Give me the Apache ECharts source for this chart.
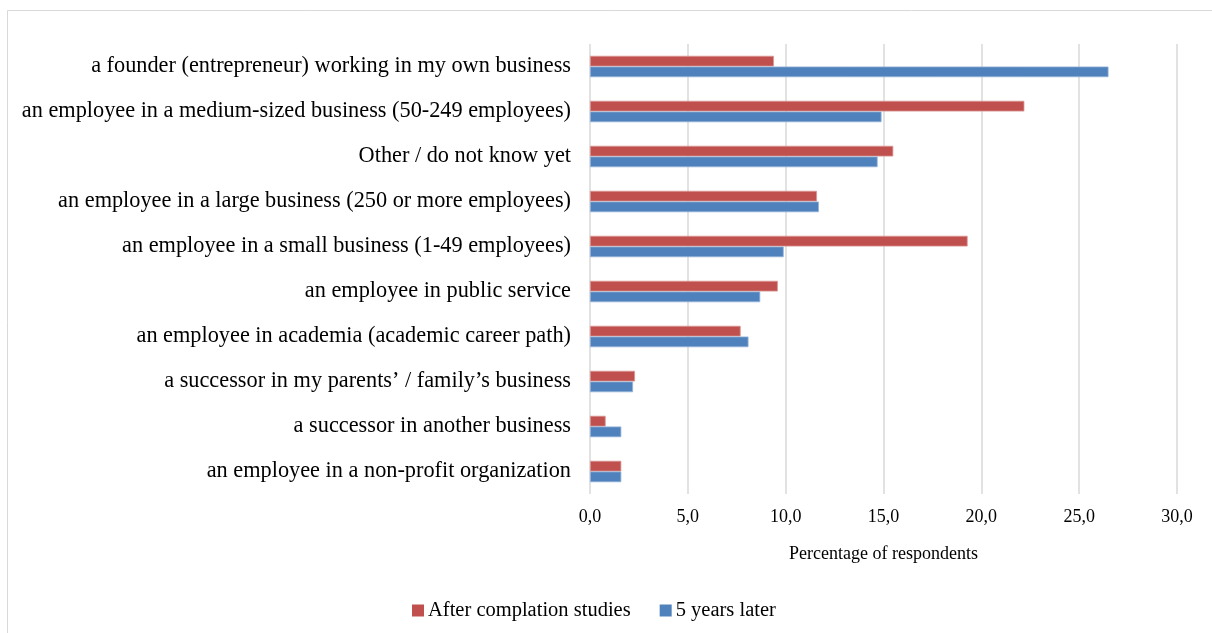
<!DOCTYPE html>
<html>
<head>
<meta charset="utf-8">
<script src="https://cdn.jsdelivr.net/npm/echarts@6/dist/echarts.min.js"></script>
<style>
  html, body { margin: 0; padding: 0; background: #fff; }
  #chart { width: 1212px; height: 633px; }
</style>
</head>
<body>
<div id="chart"></div>
<script>
// Career intentions, top to bottom
const categories = [
  'a founder (entrepreneur) working in my own business',
  'an employee in a medium-sized business (50-249 employees)',
  'Other / do not know yet',
  'an employee in a large business (250 or more employees)',
  'an employee in a small business (1-49 employees)',
  'an employee in public service',
  'an employee in academia (academic career path)',
  'a successor in my parents\u2019 / family\u2019s business',
  'a successor in another business',
  'an employee in a non-profit organization'
];
const afterStudies = [9.4, 22.2, 15.5, 11.6, 19.3, 9.6, 7.7, 2.3, 0.8, 1.6];
const fiveYearsLater = [26.5, 14.9, 14.7, 11.7, 9.9, 8.7, 8.1, 2.2, 1.6, 1.6];
const seriesNames = ['After complation studies', '5 years later'];
const xTickLabels = ['0,0', '5,0', '10,0', '15,0', '20,0', '25,0', '30,0'];
const xAxisName = 'Percentage of respondents';

const FONT = '"Liberation Serif", "Times New Roman", serif';
const chart = echarts.init(document.getElementById('chart'), null, { renderer: 'canvas' });

chart.setOption({
  animation: false,
  backgroundColor: '#ffffff',
  graphic: [{
    type: 'rect',
    shape: { x: 7.5, y: 10.5, width: 1220, height: 640 },
    style: { fill: 'none', stroke: '#D9D9D9', lineWidth: 1 },
    silent: true,
    z: -1
  }],
  grid: { left: 590, right: 35, top: 44, bottom: 139, containLabel: false },
  legend: {
    data: seriesNames,
    left: 407,
    top: 595,
    icon: 'rect',
    itemWidth: 12,
    itemHeight: 12,
    itemGap: 29,
    itemStyle: { borderWidth: 0 },
    textStyle: { fontFamily: FONT, fontSize: 20.5, color: '#000', padding: [0, 0, 0, -1] }
  },
  xAxis: {
    type: 'value',
    min: 0,
    max: 30,
    interval: 5,
    name: xAxisName,
    nameLocation: 'middle',
    nameGap: 51,
    nameTextStyle: { fontFamily: FONT, fontSize: 18, color: '#000' },
    axisLine: { show: false },
    axisTick: { show: false },
    axisLabel: {
      margin: 14,
      fontFamily: FONT,
      fontSize: 18,
      color: '#000',
      formatter: (v, i) => xTickLabels[i]
    },
    splitLine: { show: true, lineStyle: { color: '#D9D9D9', width: 1.5 } }
  },
  yAxis: {
    type: 'category',
    data: categories,
    inverse: true,
    axisLine: { show: false },
    axisTick: { show: false },
    axisLabel: { margin: 19, fontFamily: FONT, fontSize: 22.3, color: '#000' }
  },
  series: [
    {
      name: seriesNames[0],
      type: 'bar',
      data: afterStudies,
      barWidth: 10.7,
      barGap: '0%',
      itemStyle: { color: '#C0504D', borderColor: '#D99694', borderWidth: 0.8 }
    },
    {
      name: seriesNames[1],
      type: 'bar',
      data: fiveYearsLater,
      barWidth: 10.7,
      barGap: '0%',
      itemStyle: { color: '#4F81BD', borderColor: '#95B3D7', borderWidth: 0.8 }
    }
  ]
});
</script>
</body>
</html>
